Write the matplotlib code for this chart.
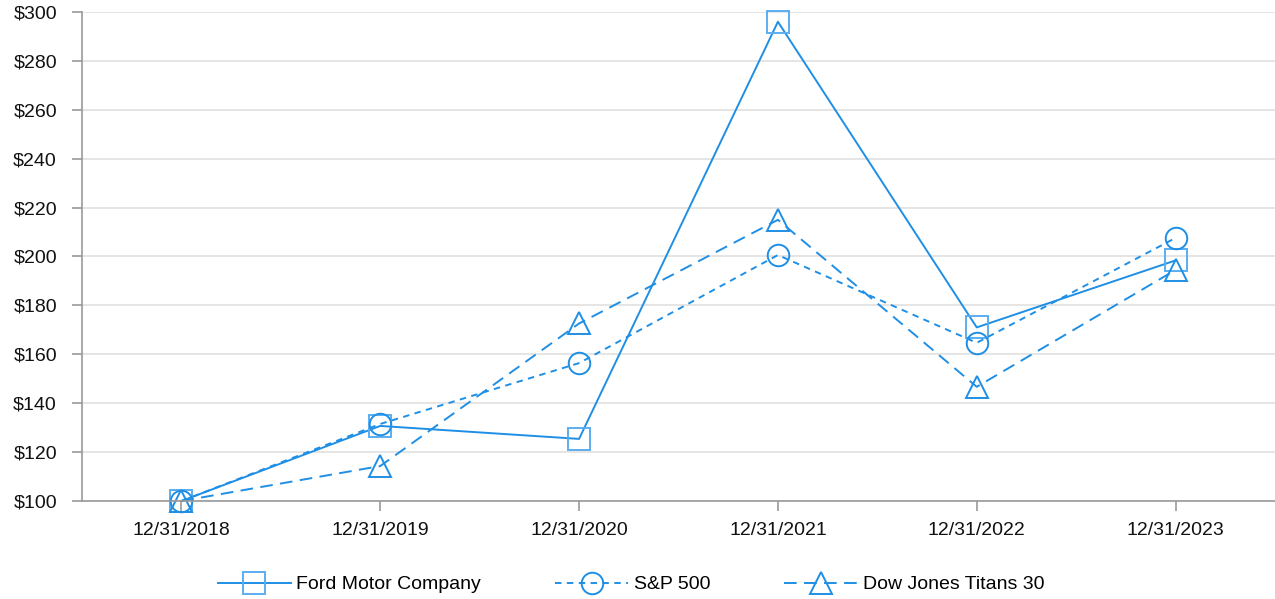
import numpy as np
import matplotlib
matplotlib.use("Agg")
import matplotlib.pyplot as plt

plt.rcParams['font.family'] = ['Liberation Sans', 'DejaVu Sans']

dates = ["12/31/2018", "12/31/2019", "12/31/2020", "12/31/2021", "12/31/2022", "12/31/2023"]
ford = [100, 130.7, 125.4, 296, 171, 198.4]
sp500 = [100, 131.5, 156.4, 200.6, 164.7, 207.6]
dow = [100, 114.3, 172.6, 215, 146.7, 194.5]
y_ticks = [100, 120, 140, 160, 180, 200, 220, 240, 260, 280, 300]

line_color = "#1f8fe6"
square_color = "#5aaef0"

fig = plt.figure(figsize=(12.75, 5.99), dpi=100)
ax = fig.add_axes([0.0643, 0.1636, 0.9357, 0.8164])

x = np.arange(len(dates))
ax.plot(x, ford, '-', color=line_color, lw=1.4, marker='s', ms=15.5,
        mfc='none', mec=square_color, mew=1.4, label="Ford Motor Company", clip_on=False)
ax.plot(x, sp500, color=line_color, lw=1.4, dashes=(3.3, 2.8), marker='o', ms=15.5,
        mfc='none', mec=line_color, mew=1.4, label="S&P 500", clip_on=False)
ax.plot(x, dow, color=line_color, lw=1.4, dashes=(6.5, 3.8), marker='^', ms=15.5,
        mfc='none', mec=line_color, mew=1.4, label="Dow Jones Titans 30", clip_on=False)

ax.set_xlim(-0.5, 5.5)
ax.set_ylim(100, 300)
ax.set_yticks(y_ticks)
ax.set_yticklabels(["${}".format(v) for v in y_ticks])
ax.set_xticks(x)
ax.set_xticklabels(dates)
ax.tick_params(axis='both', labelsize=14, colors='#999999', labelcolor='#111111', length=7, width=1.2)
ax.tick_params(axis='y', pad=11)
ax.tick_params(axis='x', pad=8)

ax.grid(axis='y', color='#e3e3e3', lw=1.3)
ax.set_axisbelow(True)
for s in ['top', 'right']:
    ax.spines[s].set_visible(False)
for s in ['left', 'bottom']:
    ax.spines[s].set_color('#999999')
    ax.spines[s].set_linewidth(1.2)

fig.legend(loc='lower center', bbox_to_anchor=(0.495, -0.02), ncol=3, frameon=False,
           fontsize=14, handlelength=3.75, columnspacing=3.8, handletextpad=0.3)

fig.savefig("out.png", dpi=100)
